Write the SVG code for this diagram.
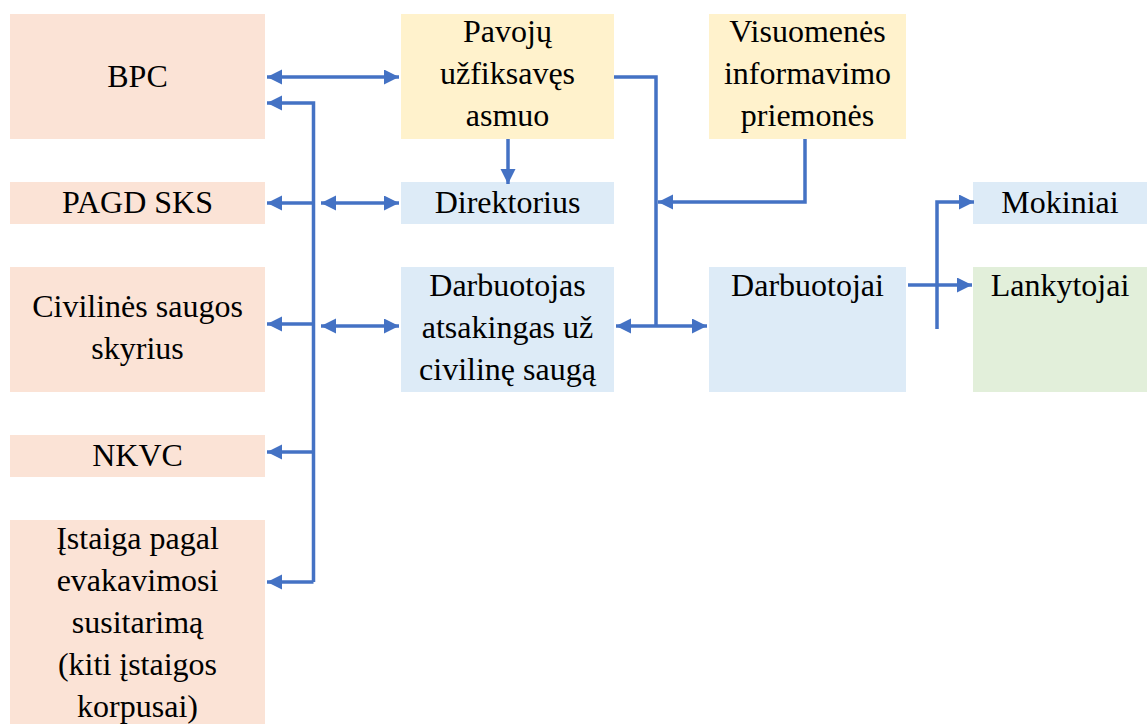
<svg xmlns="http://www.w3.org/2000/svg" width="1147" height="724" viewBox="0 0 1147 724">
  <style>
    .peach { fill: #FBE3D6; }
    .yellow { fill: #FFF2CC; }
    .blue { fill: #DDEBF7; }
    .green { fill: #E2EFDA; }
    .link { fill: none; stroke: #4472C4; stroke-width: 3.5; }
  </style>
  <defs>
    <marker id="arrow" markerUnits="userSpaceOnUse" markerWidth="16" markerHeight="16" refX="15" refY="7.5" orient="auto-start-reverse">
      <path d="M0,0 L15,7.5 L0,15 z" fill="#4472C4"/>
    </marker>
  </defs>
  <rect width="1147" height="724" fill="#fff"/>

  <g font-family="'Liberation Serif', 'Times New Roman', serif" font-size="32" fill="#000" text-anchor="middle">
    <!-- left column: external services -->
    <g id="bpc">
      <rect class="peach" x="10" y="14" width="255" height="125"/>
      <text x="137.5" y="87">BPC</text>
    </g>
    <g id="pagd-sks">
      <rect class="peach" x="10" y="182" width="255" height="42"/>
      <text x="137.5" y="213">PAGD SKS</text>
    </g>
    <g id="civiline-sauga">
      <rect class="peach" x="10" y="267" width="255" height="125"/>
      <text x="137.5" y="317">Civilinės saugos</text>
      <text x="137.5" y="359">skyrius</text>
    </g>
    <g id="nkvc">
      <rect class="peach" x="10" y="435" width="255" height="42"/>
      <text x="137.5" y="466">NKVC</text>
    </g>
    <g id="istaiga">
      <rect class="peach" x="10" y="520" width="255" height="210"/>
      <text x="137.5" y="549">Įstaiga pagal</text>
      <text x="137.5" y="591">evakavimosi</text>
      <text x="137.5" y="633">susitarimą</text>
      <text x="137.5" y="675">(kiti įstaigos</text>
      <text x="137.5" y="717">korpusai)</text>
    </g>

    <!-- middle column -->
    <g id="pavoju">
      <rect class="yellow" x="401" y="14" width="213" height="125"/>
      <text x="507.5" y="42">Pavojų</text>
      <text x="507.5" y="84">užfiksavęs</text>
      <text x="507.5" y="126">asmuo</text>
    </g>
    <g id="direktorius">
      <rect class="blue" x="401" y="182" width="213" height="42"/>
      <text x="507.5" y="213">Direktorius</text>
    </g>
    <g id="darbuotojas">
      <rect class="blue" x="401" y="267" width="213" height="125"/>
      <text x="507.5" y="296">Darbuotojas</text>
      <text x="507.5" y="338">atsakingas už</text>
      <text x="507.5" y="380">civilinę saugą</text>
    </g>

    <!-- right side -->
    <g id="visuomenes">
      <rect class="yellow" x="709" y="14" width="197" height="125"/>
      <text x="807.5" y="42">Visuomenės</text>
      <text x="807.5" y="84">informavimo</text>
      <text x="807.5" y="126">priemonės</text>
    </g>
    <g id="darbuotojai">
      <rect class="blue" x="709" y="267" width="197" height="125"/>
      <text x="807.5" y="296">Darbuotojai</text>
    </g>
    <g id="mokiniai">
      <rect class="blue" x="973" y="182" width="174" height="42"/>
      <text x="1060" y="213">Mokiniai</text>
    </g>
    <g id="lankytojai">
      <rect class="green" x="973" y="267" width="174" height="125"/>
      <text x="1060" y="296">Lankytojai</text>
    </g>
  </g>

  <!-- connectors -->
  <g id="connectors">
    <path class="link" d="M267,77 L399,77" marker-start="url(#arrow)" marker-end="url(#arrow)"/>
    <!-- distribution bus to the left column -->
    <path class="link" d="M313.5,582 L313.5,103 L267,103" marker-end="url(#arrow)"/>
    <path class="link" d="M313.5,203 L267,203" marker-end="url(#arrow)"/>
    <path class="link" d="M313.5,324 L267,324" marker-end="url(#arrow)"/>
    <path class="link" d="M313.5,452 L267,452" marker-end="url(#arrow)"/>
    <path class="link" d="M313.5,582 L267,582" marker-end="url(#arrow)"/>
    <path class="link" d="M321,203 L399,203" marker-start="url(#arrow)" marker-end="url(#arrow)"/>
    <path class="link" d="M321,326 L399,326" marker-start="url(#arrow)" marker-end="url(#arrow)"/>
    <!-- Pavojų → Direktorius -->
    <path class="link" d="M508,139 L508,184" marker-end="url(#arrow)"/>
    <!-- Pavojų → Darbuotojas / Darbuotojai -->
    <path class="link" d="M614,77 L656,77 L656,326"/>
    <path class="link" d="M616,326 L707,326" marker-start="url(#arrow)" marker-end="url(#arrow)"/>
    <!-- Visuomenės → bus -->
    <path class="link" d="M805,139 L805,202 L658,202" marker-end="url(#arrow)"/>
    <!-- Darbuotojai → Mokiniai / Lankytojai -->
    <path class="link" d="M908,285 L972,285" marker-end="url(#arrow)"/>
    <path class="link" d="M937,329 L937,202 L974,202" marker-end="url(#arrow)"/>
  </g>
</svg>
